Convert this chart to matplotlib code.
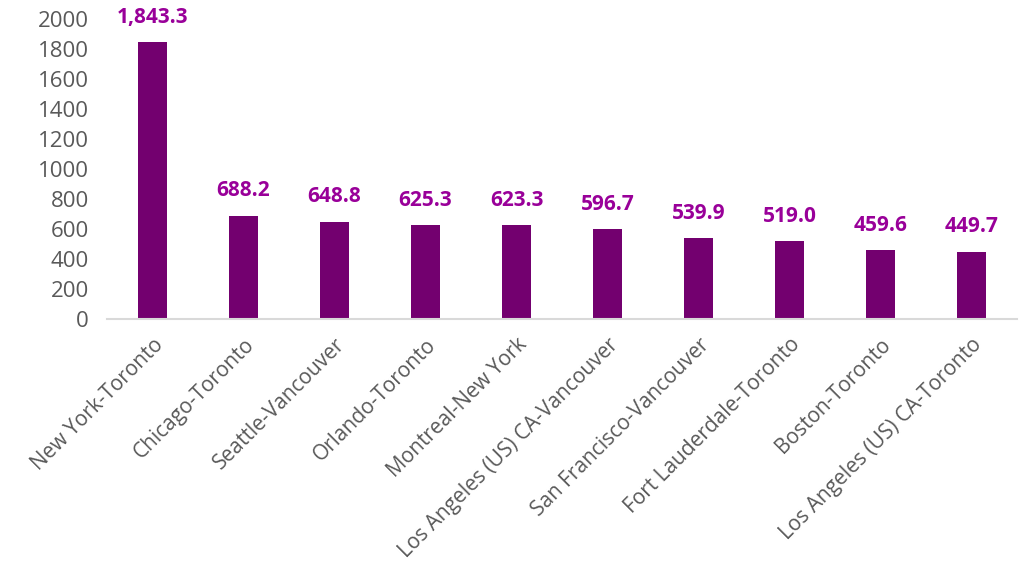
import matplotlib.pyplot as plt

plt.rcParams['font.family'] = ['Open Sans', 'DejaVu Sans']

routes = ['New York-Toronto', 'Chicago-Toronto', 'Seattle-Vancouver', 'Orlando-Toronto',
          'Montreal-New York', 'Los Angeles (US) CA-Vancouver', 'San Francisco-Vancouver',
          'Fort Lauderdale-Toronto', 'Boston-Toronto', 'Los Angeles (US) CA-Toronto']
values = [1843.3, 688.2, 648.8, 625.3, 623.3, 596.7, 539.9, 519.0, 459.6, 449.7]

fig = plt.figure(figsize=(10.19, 5.64), dpi=100)
ax = fig.add_axes([0.105, 0.4344, 0.893, 0.532])

x = range(len(routes))
ax.bar(x, values, width=0.32, color='#73006f')

for xi, v in zip(x, values):
    ax.text(xi, v + 165, f'{v:,.1f}', ha='center', va='center', fontsize=15,
            fontweight='bold', color='#990099', clip_on=False)

ax.set_xlim(-0.5, len(routes) - 0.5)
ax.set_ylim(0, 2000)
ax.set_yticks(range(0, 2001, 200))
ax.set_xticks(list(x))
ax.set_xticklabels(routes, rotation=45, ha='right', rotation_mode='anchor', fontsize=15)
ax.tick_params(axis='both', length=0, labelcolor='#595959')
ax.tick_params(axis='y', labelsize=16, pad=13)
ax.tick_params(axis='x', pad=11)

for s in ['top', 'right', 'left']:
    ax.spines[s].set_visible(False)
ax.spines['bottom'].set_color('#d9d9d9')
ax.spines['bottom'].set_linewidth(1.5)

fig.savefig('out.png', dpi=100)
